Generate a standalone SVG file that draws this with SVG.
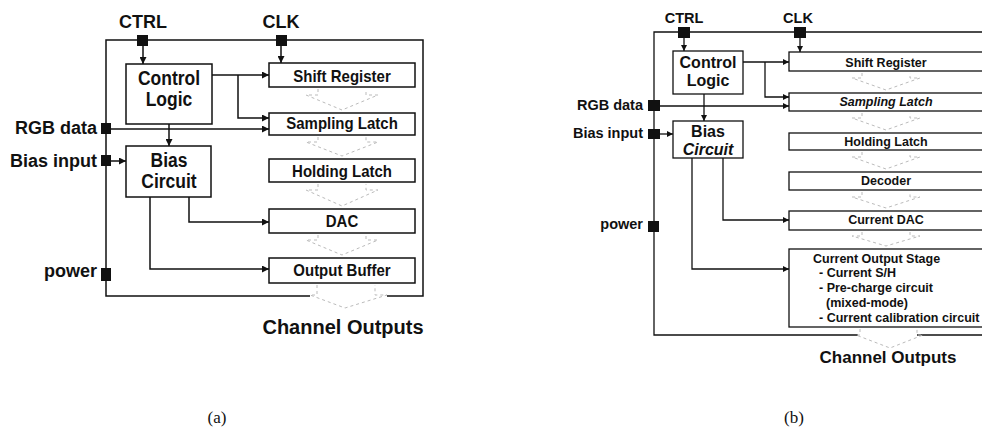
<svg xmlns="http://www.w3.org/2000/svg" width="982" height="428" viewBox="0 0 982 428">
<defs>
<marker id="ah" viewBox="0 0 10 10" refX="10" refY="5" markerWidth="8" markerHeight="7" markerUnits="userSpaceOnUse" orient="auto"><path d="M0,0 L10,5 L0,10 z" fill="#111"/></marker>
<marker id="ahb" viewBox="0 0 10 10" refX="10" refY="5" markerWidth="7" markerHeight="6" markerUnits="userSpaceOnUse" orient="auto"><path d="M0,0 L10,5 L0,10 z" fill="#111"/></marker>
</defs>
<style>
text{font-family:"Liberation Sans",Arial,sans-serif;font-weight:bold;fill:#111}
.box{fill:#fff;stroke:#111;stroke-width:1.5}
.boxb{fill:#fff;stroke:#111;stroke-width:1.3}
.pin{fill:#111}
.frame{fill:none;stroke:#111;stroke-width:1.5}
.wa{fill:none;stroke:#111;stroke-width:1.5;marker-end:url(#ah)}
.wb{fill:none;stroke:#111;stroke-width:1.3;marker-end:url(#ahb)}
.chev{fill:none;stroke:#bbb;stroke-width:1;stroke-dasharray:3 3}
.c{text-anchor:middle}
.r{text-anchor:end}
.a1{font-size:17.5px}
.a2{font-size:15px}
.a3{font-size:18px}
.b1{font-size:16px}
.b2{font-size:12.5px}
.b3{font-size:14.5px}
.cap{font-family:"Liberation Serif","Times New Roman",serif;font-weight:normal;font-size:17px}
</style>

<!-- Diagram (a) -->
<g id="a-frame">
<path class="frame" d="M310,296 L106,296 L106,40 L423,40 L423,296 L387,296"/>
</g>
<g id="a-pins">
<rect class="pin" x="137" y="35" width="11" height="11"/>
<rect class="pin" x="276" y="35" width="11" height="11"/>
<rect class="pin" x="101" y="123" width="10" height="11"/>
<rect class="pin" x="101" y="155" width="10" height="11"/>
<rect class="pin" x="101" y="268" width="10" height="13"/>
<text class="c a3" x="143" y="28">CTRL</text>
<text class="c a3" x="281" y="28">CLK</text>
<text class="r a3" x="97" y="134">RGB data</text>
<text class="r a3" x="97" y="167">Bias input</text>
<text class="r a3" x="97" y="277">power</text>
</g>
<g id="a-connectors">
<path class="wa" d="M143,46 L143,64"/>
<path class="wa" d="M281,46 L281,63"/>
<path class="wa" d="M212,75 L269,75"/>
<path class="wa" d="M238,75 L238,118 L269,118"/>
<path class="wa" d="M111,129 L269,129"/>
<path class="wa" d="M169,124 L169,146"/>
<path class="wa" d="M111,161 L126,161"/>
<path class="wa" d="M189,197 L189,222 L269,222"/>
<path class="wa" d="M150,197 L150,269 L269,269"/>
<path class="chev" d="M318,89 L318,95 L306,95 L342,110 L378,95 L366,95 L366,89"/>
<path class="chev" d="M318,137 L318,142 L306,142 L342,156 L378,142 L366,142 L366,137"/>
<path class="chev" d="M318,184 L318,190 L306,190 L342,206 L378,190 L366,190 L366,184"/>
<path class="chev" d="M318,235 L318,240 L306,240 L342,255 L378,240 L366,240 L366,235"/>
<path class="chev" d="M317,285 L317,295 L310,295 L345,308 L387,295 L375,295 L375,285"/>
</g>
<g id="a-control-logic">
<rect class="box" x="126" y="64" width="86" height="60"/>
<text class="c a1" transform="translate(169 85) scale(1 1.2)">Control</text>
<text class="c a1" transform="translate(169 106) scale(1 1.2)">Logic</text>
</g>
<g id="a-bias-circuit">
<rect class="box" x="126" y="146" width="85" height="51"/>
<text class="c a1" transform="translate(169 167) scale(1 1.2)">Bias</text>
<text class="c a1" transform="translate(169 188) scale(1 1.2)">Circuit</text>
</g>
<g id="a-shift-register">
<rect class="box" x="269" y="63" width="146" height="24"/>
<text class="c a2" transform="translate(342 82) scale(1 1.1)">Shift Register</text>
</g>
<g id="a-sampling-latch">
<rect class="box" x="269" y="113" width="146" height="22"/>
<text class="c a2" transform="translate(342 129) scale(1 1.1)">Sampling Latch</text>
</g>
<g id="a-holding-latch">
<rect class="box" x="269" y="159" width="146" height="23"/>
<text class="c a2" transform="translate(342 177) scale(1 1.1)">Holding Latch</text>
</g>
<g id="a-dac">
<rect class="box" x="269" y="209" width="146" height="24"/>
<text class="c a2" transform="translate(342 227) scale(1 1.1)">DAC</text>
</g>
<g id="a-output-buffer">
<rect class="box" x="269" y="258" width="146" height="25"/>
<text class="c a2" transform="translate(342 276) scale(1 1.1)">Output Buffer</text>
</g>
<g id="a-channel-outputs">
<text class="c" style="font-size:20px" x="343" y="334">Channel Outputs</text>
</g>
<text class="cap c" x="217" y="423">(a)</text>

<!-- Diagram (b) -->
<g id="b-frame">
<path class="frame" style="stroke-width:1.3" d="M858,335 L654,335 L654,32 L986,32"/>
<path class="frame" style="stroke-width:1.3" d="M917,335 L986,335"/>
</g>
<g id="b-pins">
<rect class="pin" x="678" y="27" width="12" height="11"/>
<rect class="pin" x="794" y="27" width="12" height="11"/>
<rect class="pin" x="648" y="100" width="12" height="11"/>
<rect class="pin" x="648" y="129" width="12" height="10"/>
<rect class="pin" x="648" y="221" width="11" height="11"/>
<text class="c b3" x="684" y="23">CTRL</text>
<text class="c b3" x="798" y="23">CLK</text>
<text class="r b3" x="643" y="110">RGB data</text>
<text class="r b3" x="643" y="138">Bias input</text>
<text class="r b3" x="643" y="229">power</text>
</g>
<g id="b-connectors">
<path class="wb" d="M684,38 L684,51"/>
<path class="wb" d="M800,38 L800,52"/>
<path class="wb" d="M743,62 L789,62"/>
<path class="wb" d="M765,62 L765,97 L789,97"/>
<path class="wb" d="M660,106 L789,106"/>
<path class="wb" d="M704,94 L704,121"/>
<path class="wb" d="M660,134 L673,134"/>
<path class="wb" d="M723,158 L723,220 L789,220"/>
<path class="wb" d="M692,158 L692,269 L789,269"/>
<path class="chev" d="M862,73 L862,78 L852,78 L886,90 L920,78 L910,78 L910,73"/>
<path class="chev" d="M862,113 L862,118 L852,118 L886,130 L920,118 L910,118 L910,113"/>
<path class="chev" d="M862,152 L862,157 L852,157 L886,169 L920,157 L910,157 L910,152"/>
<path class="chev" d="M862,192 L862,197 L852,197 L886,208 L920,197 L910,197 L910,192"/>
<path class="chev" d="M862,232 L862,236 L852,236 L886,246 L920,236 L910,236 L910,232"/>
<path class="chev" d="M860,329 L860,335 L856,335 L890,348 L923,335 L917,335 L917,329"/>
</g>
<g id="b-control-logic">
<rect class="boxb" x="673" y="51" width="70" height="43"/>
<text class="c b1" x="708" y="68">Control</text>
<text class="c b1" x="708" y="86">Logic</text>
</g>
<g id="b-bias-circuit">
<rect class="boxb" x="673" y="121" width="70" height="37"/>
<text class="c b1" x="708" y="137">Bias</text>
<text class="c b1" x="708" y="155" font-style="italic">Circuit</text>
</g>
<g id="b-shift-register">
<rect class="boxb" x="789" y="52" width="196" height="19"/>
<text class="c b2" x="886" y="67">Shift Register</text>
</g>
<g id="b-sampling-latch">
<rect class="boxb" x="789" y="93" width="196" height="18"/>
<text class="c b2" x="886" y="106" font-style="italic">Sampling Latch</text>
</g>
<g id="b-holding-latch">
<rect class="boxb" x="789" y="133" width="196" height="17"/>
<text class="c b2" x="886" y="146">Holding Latch</text>
</g>
<g id="b-decoder">
<rect class="boxb" x="789" y="172" width="196" height="18"/>
<text class="c b2" x="886" y="185">Decoder</text>
</g>
<g id="b-current-dac">
<rect class="boxb" x="789" y="211" width="196" height="19"/>
<text class="c b2" x="886" y="224">Current DAC</text>
</g>
<g id="b-current-output-stage">
<rect class="boxb" x="789" y="249" width="196" height="78"/>
<text class="b2" x="813" y="263">Current Output Stage</text>
<text class="b2" x="819" y="277">- Current S/H</text>
<text class="b2" x="819" y="292">- Pre-charge circuit</text>
<text class="b2" x="826" y="307">(mixed-mode)</text>
<text class="b2" x="819" y="322">- Current calibration circuit</text>
</g>
<g id="b-channel-outputs">
<text class="c" style="font-size:17px" x="888" y="363">Channel Outputs</text>
</g>
<text class="cap c" x="794" y="423">(b)</text>
</svg>
